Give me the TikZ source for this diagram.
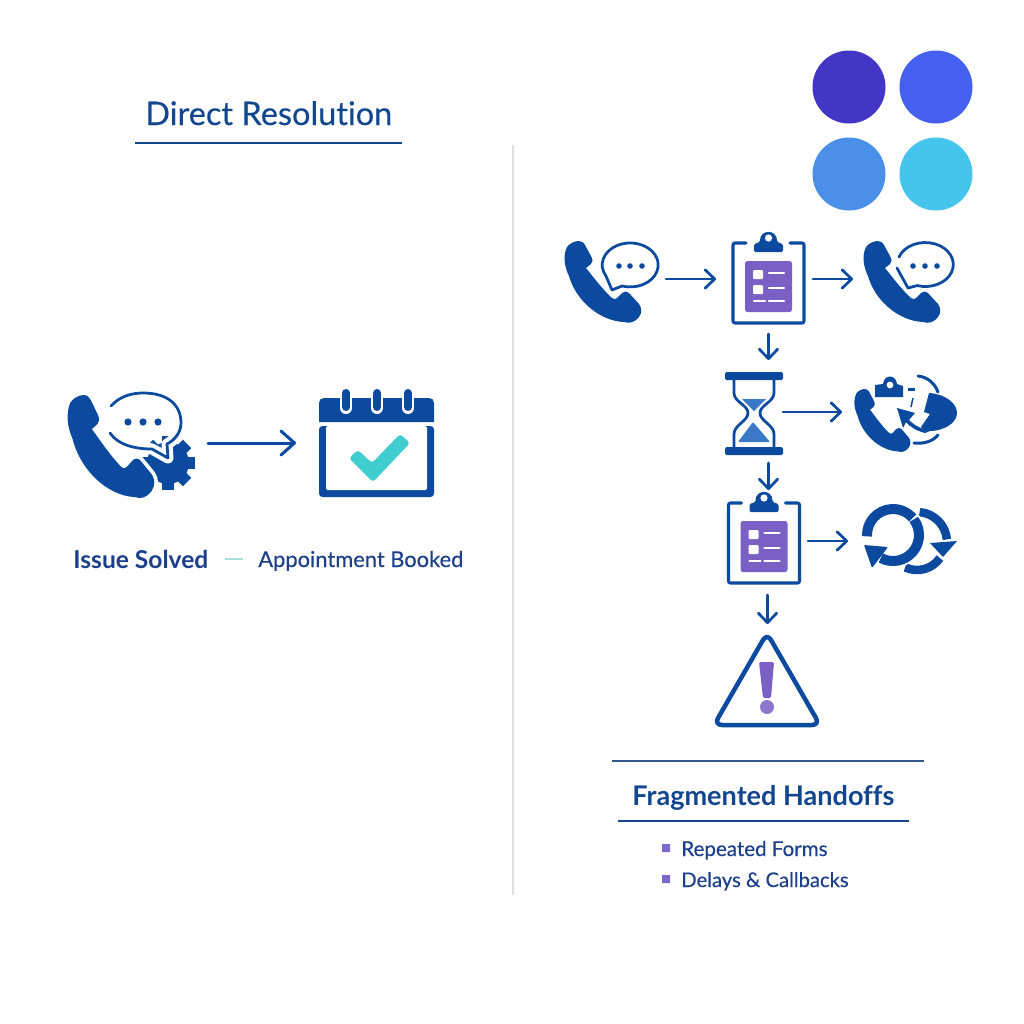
\documentclass[tikz,border=0pt]{standalone}
\usepackage{fontspec}
\setmainfont[Ligatures=NoCommon]{Lato}
\newfontfamily\medfont[Ligatures=NoCommon,FakeBold=0.25]{Lato}
\usetikzlibrary{arrows.meta,fit}
\definecolor{navy}{HTML}{0B4A9E}
\definecolor{titleblue}{HTML}{12468F}
\definecolor{textblue}{HTML}{1B3F8B}
\definecolor{formpurple}{HTML}{7A5FC4}
\definecolor{bulletpurple}{HTML}{7B68C8}
\definecolor{teal}{HTML}{40CDD0}
\definecolor{paleteal}{HTML}{A8E0E0}
\definecolor{sand}{HTML}{3A78C8}
\definecolor{divider}{HTML}{DDE0E4}
\definecolor{dotA}{HTML}{4335C6}
\definecolor{dotB}{HTML}{4560EE}
\definecolor{dotC}{HTML}{4A90E8}
\definecolor{dotD}{HTML}{45C5EC}
\tikzset{
  x=0.2mm,y=-0.2mm,
  box/.style={inner sep=0pt,outer sep=0pt},
  flow/.style={navy,line width=0.55mm,line cap=round,-{Straight Barb[round,length=1.9mm,width=3.7mm]}},
  bigflow/.style={navy,line width=0.6mm,line cap=round,-{Straight Barb[round,length=2.7mm,width=4.8mm]}},
  outline/.style={navy,line width=0.55mm,line join=round,line cap=round},
  boardline/.style={navy,line width=0.62mm,line join=round,line cap=round},
  txt/.style={inner sep=0pt,anchor=base west},
}
\newcommand{\phonepath}{
   (3,6) .. controls (6,2) and (11,0) .. (15,0) .. controls (18,0) and (20,2) .. (21,4)
   -- (27,15) .. controls (29,19) and (29,21) .. (27,23) -- (22,27)
   .. controls (27,33) and (38,48) .. (48,57) .. controls (50,59) and (52,58) .. (53,57)
   -- (58,52) .. controls (60,50) and (63,50) .. (65,52) -- (75,63)
   .. controls (78,67) and (78,72) .. (75,76) .. controls (71,81) and (66,83) .. (60,81)
   .. controls (36,80) and (12,60) .. (5,35) .. controls (0,25) and (-1,14) .. (3,6) -- cycle}
% phone: x, y, xscale, yscale
\newcommand{\phoneicon}[4]{%
  \fill[navy,shift={(#1,#2)},xscale=#3,yscale=#4] \phonepath;}
% clipboard with form, x y = board top left
\newcommand{\clipicon}[2]{%
  \begin{scope}[shift={(#1,#2)}]
   \draw[boardline,rounded corners=0.4mm] (13,0) -- (0,0) -- (0,80) -- (71,80) -- (71,0) -- (57,0);
   \fill[navy,rounded corners=0.3mm] (21,9) -- (21,1) -- (27,-1) .. controls (27,-14) and (44,-14) .. (44,-1) -- (50,1) -- (50,9) -- cycle;
   \fill[white] (35.5,-5) circle[radius=3.6];
   \fill[formpurple,rounded corners=0.5mm] (12,18) rectangle (59,69);
   \fill[white,rounded corners=0.2mm] (20,27) rectangle (30,36) (20,42) rectangle (30,51);
   \draw[white,line width=0.45mm,line cap=round] (36,30) -- (51,30) (36,45) -- (51,45) (21,58) -- (32,58) (36,58) -- (51,58);
  \end{scope}}
\begin{document}
\begin{tikzpicture}
\useasboundingbox (0,0) rectangle (1024,1024);
\fill[white] (0,0) rectangle (1024,1024);

% palette
\fill[dotA] (849,87) circle[radius=36.5];
\fill[dotB] (936,87) circle[radius=36.5];
\fill[dotC] (849,174) circle[radius=36.5];
\fill[dotD] (936,174) circle[radius=36.5];

% divider
\draw[divider,line width=0.4mm] (513,145) -- (513,895);

% left title
\node[txt,text=titleblue] (dtitle) at (145,125) {\fontsize{18.5}{22}\selectfont\medfont Direct Resolution};
\draw[titleblue,line width=0.5mm] (135,143) -- (402,143);

% left phone + gear
\fill[navy] (168,463) circle[radius=21];
\foreach \a in {0,45,...,315}
  \fill[navy,rotate around={\a:(168,463)}] (162,436) rectangle (174,450);
\draw[white,line width=1.5mm,shift={(67,395)},xscale=1.13,yscale=1.26] \phonepath;
\draw[white,line width=2.2mm,line join=round] (181,423) .. controls (181,432) and (175,440) .. (167,444) -- (168,458) -- (152,449) -- (135,445);
\draw[outline] (111,406) .. controls (120,396) and (132,393) .. (143,393) .. controls (168,393) and (181,405) .. (181,423) .. controls (181,432) and (175,440) .. (167,444) -- (168,458) -- (152,449) .. controls (135,449) and (118,445) .. (110,433);
\foreach \x in {128,143,158} \fill[navy] (\x,422) circle[radius=3.6];
\phoneicon{67}{395}{1.13}{1.26}

% calendar
\fill[navy,rounded corners=0.7mm] (319,426) rectangle (434,497);
\fill[white,rounded corners=0.3mm] (326,426) rectangle (427,490);
\fill[navy] (319,422) -- (319,403) .. controls (319,400) and (321,398) .. (324,398) -- (429,398) .. controls (432,398) and (434,400) .. (434,403) -- (434,422) -- cycle;
\foreach \x in {346,377,408} {
  \draw[white,line width=2.4mm,line cap=round] (\x,394) -- (\x,408);
  \draw[navy,line width=1.6mm,line cap=round] (\x,393) -- (\x,407);
}
\fill[teal,rounded corners=0.6mm] (349,458) -- (358,450) -- (372,463) -- (400,434) -- (410,443) -- (373,482) -- cycle;

\node[box,fit={(67,395) (208,491)}] (phoneL) {};
\node[box,fit={(296,389) (434,497)}] (calendar) {};
\draw[bigflow] (phoneL.east) -- (calendar.west);

% left labels
\node[txt,text=textblue] (solved) at (73,568) {\fontsize{14}{17}\selectfont\bfseries Issue Solved};
\draw[paleteal,line width=0.35mm] (225,559) -- (243,559);
\node[txt,text=textblue] (booked) at (258,567) {\fontsize{12.45}{16}\selectfont\medfont Appointment Booked};

% right column: first phone
\draw[outline] (612,290) -- (622,286) arc[start angle=107,end angle=-210,x radius=28,y radius=22] -- cycle;
\foreach \x in {619,630,642} \fill[navy] (\x,266) circle[radius=2.8];
\phoneicon{564}{241}{1}{1}
\clipicon{733}{243}

% third phone
\draw[outline] (899,257) arc[start angle=200,end angle=467,x radius=28,y radius=22] -- (908,288) -- (897,268);
\foreach \x in {913,925,937} \fill[navy] (\x,266) circle[radius=2.8];
\phoneicon{863}{241}{1}{1}

% hourglass
\fill[navy,rounded corners=0.3mm] (725,372) rectangle (783,380);
\fill[navy,rounded corners=0.3mm] (725,447) rectangle (783,455);
\draw[outline] (734,380) -- (734,393) .. controls (734,402) and (748,405) .. (748,413) .. controls (748,421) and (734,425) .. (734,434) -- (734,447);
\draw[outline] (774,380) -- (774,393) .. controls (774,402) and (760,405) .. (760,413) .. controls (760,421) and (774,425) .. (774,434) -- (774,447);
\fill[sand] (742,399) -- (766,399) -- (754,411) -- cycle;
\fill[sand,rounded corners=0.2mm] (738,442) -- (753,422) -- (770,442) -- cycle;

% broken phone
\phoneicon{854}{389}{0.73}{0.77}
\fill[navy] (875,397) -- (875,385) -- (883,384) .. controls (884,374) and (896,374) .. (897,384) -- (903,386) -- (903,397) -- cycle;
\fill[white] (890,385) circle[radius=3.4];
\draw[navy,line width=0.45mm] (908,389.5) -- (915,389.5);
\draw[navy,line width=0.3mm] (913,398) -- (911,407);
\draw[navy,line width=0.6mm,line cap=round] (918,376) .. controls (928,377) and (935,384) .. (938,392);
\fill[navy] (929,393) .. controls (945,394) and (957,403) .. (957,413) .. controls (957,424) and (942,431) .. (930,431) -- (924,430) -- (921,427) -- (930,414) -- (924,412) -- cycle;
\fill[navy] (897,408) -- (915,413) -- (909,420) .. controls (915,426) and (922,429) .. (930,431) -- (925,433) .. controls (917,431) and (910,427) .. (906,422) -- (903,428) -- cycle;
\draw[navy,line width=0.6mm,line cap=round] (914,443) .. controls (925,444) and (933,441) .. (938,435);

% cycle arrows
\draw[navy,line width=1.7mm] (917,542) ++(-85:30) arc[start angle=-85,end angle=-5,radius=30];
\draw[navy,line width=1.7mm] (917,542) ++(35:28) arc[start angle=35,end angle=115,radius=28];
\fill[navy] (930,543) -- (957,541) -- (943,557) -- cycle;
\draw[white,line width=2.7mm] (893,535) circle[radius=26];
\draw[navy,line width=2mm] (893,535) ++(-183:26) arc[start angle=-183,end angle=-41,radius=26];
\draw[navy,line width=2mm] (893,535) ++(-37:26) arc[start angle=-37,end angle=118,radius=26];
\fill[navy,rounded corners=0.2mm] (864,545) -- (888,547) -- (872,568) -- cycle;

% second clipboard
\clipicon{728.5}{503}

% warning
\draw[navy,line width=0.9mm,line join=round,rounded corners=1.6mm] (767,633) -- (820,725) -- (714,725) -- cycle;
\fill[formpurple,rounded corners=0.3mm] (759,662) -- (774,662) -- (771,698) -- (763,698) -- cycle;
\fill[formpurple!85!white] (767,707) circle[radius=7];

% connector nodes
\node[box,fit={(564,241) (666,317)}] (phoneA) {};
\node[box,fit={(733,232) (804,326)}] (clipA) {};
\node[box,fit={(853,241) (954,317)}] (phoneB) {};
\node[box,fit={(725,369) (783,455)}] (hourglass) {};
\node[box,fit={(842,376) (958,448)}] (broken) {};
\node[box,fit={(728,495) (800,587)}] (clipB) {};
\node[box,fit={(860,503) (960,579)}] (cycle) {};
\node[box,fit={(715,634) (820,726)}] (warning) {};

\draw[flow] (phoneA.east) -- ([xshift=-3.4mm]clipA.west);
\draw[flow,shorten <=1.8mm] (clipA.east) -- (phoneB.west);
\draw[flow,shorten <=1.6mm,shorten >=1.8mm] (clipA.south) -- (clipA.south |- hourglass.north);
\draw[flow] (hourglass.east) -- (broken.west);
\draw[flow,shorten <=1.6mm,shorten >=1mm] (clipA.south |- hourglass.south) -- (clipA.south |- clipB.north);
\draw[flow,shorten <=1.6mm,shorten >=2.4mm] (clipB.east) -- (cycle.west);
\draw[flow,shorten <=1.6mm,shorten >=2mm] (warning.north |- clipB.south) -- (warning.north);

% bottom right
\draw[titleblue!70!gray,line width=0.25mm] (612,761) -- (924,761);
\node[txt,text=titleblue] (frag) at (632,805) {\fontsize{15.4}{19}\selectfont\bfseries Fragmented Handoffs};
\draw[titleblue,line width=0.5mm] (618,821) -- (909,821);
\fill[bulletpurple] (662,844) rectangle (670,852) (662,875) rectangle (670,883);
\node[txt,text=textblue] (forms) at (681,856) {\fontsize{11.7}{15}\selectfont\medfont Repeated Forms};
\node[txt,text=textblue] (delays) at (681,887) {\fontsize{11.5}{15}\selectfont\medfont Delays \& Callbacks};
\end{tikzpicture}
\end{document}
